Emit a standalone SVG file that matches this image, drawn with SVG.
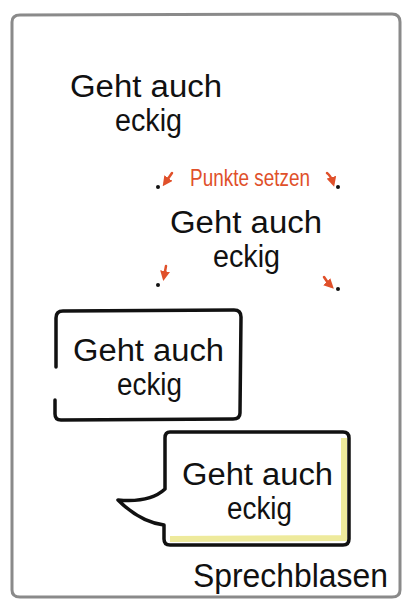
<svg xmlns="http://www.w3.org/2000/svg" width="414" height="610" viewBox="0 0 414 610">
<defs>
<style>
.hw{font-family:"Liberation Sans","DejaVu Sans",sans-serif;fill:#111}
.big{font-size:31px}
.red{font-family:"Liberation Sans","DejaVu Sans",sans-serif;fill:#e0502a;font-size:24px}
.box{fill:none;stroke:#111;stroke-width:3.5;stroke-linecap:round;stroke-linejoin:round}
.arr{fill:none;stroke:#e0502a;stroke-width:2.5;stroke-linecap:round}
.dot{fill:#111}
</style>
<marker id="ah" viewBox="0 0 10 10" refX="6" refY="5" markerWidth="4" markerHeight="4" orient="auto">
<path d="M0,0 L10,5 L0,10 z" fill="#e0502a"/>
</marker>
</defs>
<rect x="0" y="0" width="414" height="610" fill="#fff"/>
<g id="frame">
<path d="M12,22 Q12,15 20,15 L392,14 Q400,14 400,22 L400,590 Q400,597 392,597 L20,597 Q12,597 12,590 Z" fill="none" stroke="#8a8a8a" stroke-width="3"/>
</g>
<g id="text1">
<text class="hw big" x="70" y="97" textLength="152" lengthAdjust="spacingAndGlyphs">Geht auch</text>
<text class="hw big" x="115" y="131" textLength="67" lengthAdjust="spacingAndGlyphs">eckig</text>
</g>
<g id="label-punkte">
<text class="red" x="190" y="186" textLength="120" lengthAdjust="spacingAndGlyphs">Punkte setzen</text>
</g>
<g id="text2">
<text class="hw big" x="170" y="233" textLength="152" lengthAdjust="spacingAndGlyphs">Geht auch</text>
<text class="hw big" x="213" y="267" textLength="67" lengthAdjust="spacingAndGlyphs">eckig</text>
</g>
<g id="dots">
<circle class="dot" cx="158" cy="187" r="2"/>
<circle class="dot" cx="338" cy="187" r="2"/>
<circle class="dot" cx="158" cy="285" r="2"/>
<circle class="dot" cx="338" cy="289" r="2"/>
</g>
<g id="connectors">
<path class="arr" d="M172,173 L165,183" marker-end="url(#ah)"/>
<path class="arr" d="M327,173 Q331,176 333,183" marker-end="url(#ah)"/>
<path class="arr" d="M166,266 L164,277" marker-end="url(#ah)"/>
<path class="arr" d="M324,277 Q327,282 331,286" marker-end="url(#ah)"/>
</g>
<g id="box1">
<path class="box" d="M56,367 L56,318 Q56,311 63,311 L234,310 Q241,310 241,317 L240,413 Q240,419 233,419 L61,420 Q55,420 55,414 L55,400"/>
<text class="hw big" x="73" y="361" textLength="151" lengthAdjust="spacingAndGlyphs">Geht auch</text>
<text class="hw big" x="117" y="395" textLength="65" lengthAdjust="spacingAndGlyphs">eckig</text>
</g>
<g id="bubble">
<path d="M170,432 L343,432 Q349,432 349,438 L349,539 Q349,545 343,545 L170,545 Q164,545 164,539 L164,525 Q140,522 118,500 Q150,503 165,489 L165,438 Q165,432 170,432 Z" fill="#fff"/>
<path d="M344,438 L344,538 L170,539" fill="none" stroke="#eeea9c" stroke-width="6"/>
<path class="box" d="M170,432 L343,432 Q349,432 349,438 L349,539 Q349,545 343,545 L170,545 Q164,545 164,539 L164,525 Q140,522 118,500 Q150,503 165,489 L165,438 Q165,432 170,432 Z"/>
<text class="hw big" x="182" y="485" textLength="151" lengthAdjust="spacingAndGlyphs">Geht auch</text>
<text class="hw big" x="227" y="519" textLength="65" lengthAdjust="spacingAndGlyphs">eckig</text>
</g>
<g id="title">
<text class="hw" x="193" y="587" font-size="34" textLength="195" lengthAdjust="spacingAndGlyphs">Sprechblasen</text>
</g>
</svg>
